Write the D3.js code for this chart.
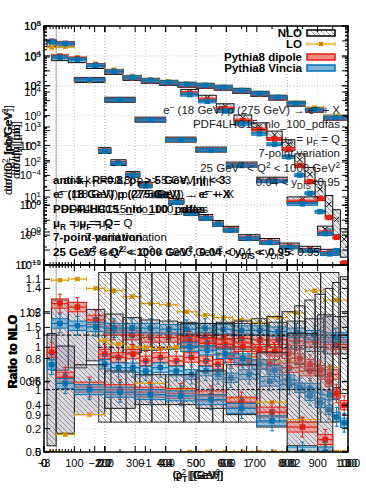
<!DOCTYPE html>
<html lang="en">
<head>
<meta charset="utf-8">
<title>Jets in DIS: NLO vs LO vs Pythia8</title>
<script src="https://d3js.org/d3.v7.min.js"></script>
<style>
  body { margin: 0; background: #fff; }
  svg { font-family: "Liberation Sans", Arial, Helvetica, sans-serif; }
</style>
</head>
<body>
<svg id="chart" width="366" height="503"></svg>
<script>
// ---- values (several overlaid plots) ----
// Q^2 spectrum
var q2Edges = [25,80,140,200,260,320,380,440,500,560,620,680,740,800,860,920,1000];
var q2Nlo   = [7400,5400,2150,860,340,215,158,117,100,74,46,29,16,6.3,2.5,0.74];
var q2Unc   = [0.3,0.28,0.22,0.18,0.15,0.13,0.12,0.11,0.1,0.1,0.1,0.1,0.11,0.12,0.14,0.16];
var q2Lo    = [1.47,1.48,1.40,1.38,1.33,1.27,1.26,1.20,1.17,1.15,1.13,1.11,1.15,1.19,1.38,1.30];
var q2Dip   = [1.27,1.24,1.13,1.04,1.0,0.98,0.98,0.97,0.98,0.97,0.97,0.96,0.96,0.95,0.94,0.92];
var q2Vin   = [1.1,1.08,1.07,1.06,1.06,1.06,1.05,1.05,1.06,1.05,1.04,1.04,1.03,1.02,1.0,0.98];

// jet pT spectrum
var ptEdges = [18,22,27,31.5,35.5,41,46,51,55.5,59,64,71,77.5,84,91,97];
var ptNlo   = [8.3,5.2,3.3,2.2,1.5,1.17,0.76,0.63,0.5,0.4,0.29,0.25,0.21,0.185,0.165];
var ptUnc   = [0.11,0.11,0.11,0.11,0.11,0.11,0.11,0.11,0.11,0.11,0.11,0.11,0.11,0.11,0.11];
var ptLo    = [1.01,1.005,1.0,1.0,0.998,1.0,0.995,1.0,0.99,0.99,0.985,0.98,0.98,0.975,0.97];
var ptDip   = [0.99,0.985,0.99,0.98,0.985,0.98,0.985,0.98,0.975,0.985,0.98,0.975,0.97,0.965,0.96];
var ptVin   = [0.975,0.97,0.97,0.965,0.97,0.965,0.96,0.965,0.96,0.955,0.96,0.95,0.945,0.94,0.93];

// jet pseudorapidity
var etaEdges = [-0.3,0.05,0.4,0.75,1.1,1.4,1.7,1.95,2.15,2.35,2.55,2.7,2.85,3.0];
var etaNlo   = [79,63,45,29,21,15,10.4,5.8,3.3,1.86,1.04,0.58,0.27];
var etaUnc   = [0.1,0.1,0.11,0.12,0.14,0.16,0.2,0.25,0.3,0.35,0.4,0.45,0.5];
var etaLo    = [0,0,0,0,0,0,0,0,0,0,0,0,0];
var etaDip   = [0.95,0.93,0.92,0.9,0.88,0.86,0.84,0.8,0.75,0.7,0.6,0.5,0.4];
var etaVin   = [0.9,0.87,0.84,0.8,0.75,0.7,0.62,0.55,0.48,0.42,0.36,0.3,0.25];

// inelasticity y_DIS
var yEdges = [0.01,0.04,0.1,0.2,0.3,0.4,0.5,0.6,0.7,0.8,0.9,0.95];
var yNlo   = [74000,63000,250,11.7,0.54,0.025,0.0054,5.4e-4,5.4e-5,2.5e-6,2.5e-8];
var yUnc   = [0.45,0.35,0.2,0.15,0.12,0.12,0.15,0.2,0.3,0.45,0.6];
var yLo    = [0.5,0.64,0.8,1.0,1.05,1.0,0.96,0.93,0.9,0.76,0.56];
var yDip   = [1.3,1.1,1.02,1.0,0.98,0.97,0.95,0.9,0.82,0.7,0.6];
var yVin   = [1.2,1.05,1.0,0.98,0.96,0.95,0.92,0.85,0.75,0.5,0.5];

var legendNames = ["NLO", "LO", "Pythia8 dipole", "Pythia8 Vincia"];

var cLO = "#e69f00", cDip = "#e51e10", cVin = "#0072b2";

var svg = d3.select("#chart");
var L = 44, R = 348, T = 26, M = 265, B = 452;

// patterns / clips
var defs = svg.append("defs");
var pat = defs.append("pattern").attr("id", "hatch")
    .attr("patternUnits", "userSpaceOnUse").attr("width", 5).attr("height", 5);
pat.append("path").attr("d", "M0,0L5,5M4,-1L6,1M-1,4L1,6")
    .attr("stroke", "#666").attr("stroke-width", 0.6);
defs.append("clipPath").attr("id", "clipUp").append("rect")
    .attr("x", L).attr("y", T).attr("width", R - L).attr("height", M - T);
defs.append("clipPath").attr("id", "clipLo").append("rect")
    .attr("x", L).attr("y", M).attr("width", R - L).attr("height", B - M);

// scales
var xQ = d3.scaleLinear().domain([0, 1000]).range([L, R]);
var xPt = d3.scaleLinear().domain([0, 100]).range([L, R]);
var xEta = d3.scaleLinear().domain([-3, 3]).range([L, R]);
var xY = d3.scaleLinear().domain([0, 1]).range([L, R]);
var yA = d3.scaleLog().domain([0.1, 1000]).range([M, T]);
var yB = d3.scaleLog().domain([1e-10, 1e6]).range([M, T]);
var yC = d3.scaleLog().domain([Math.pow(10, -0.943), Math.pow(10, 5.886)]).range([M, T]);
var r1 = d3.scaleLinear().domain([0, 1.6]).range([B, M]);
var r2 = d3.scaleLinear().domain([0.846, 1.121]).range([B, M]);
var r3 = d3.scaleLinear().domain([0.5, 2.0]).range([B, M]);

var plots = [
  {x: xQ, y: yB, r: r1, edges: q2Edges, nlo: q2Nlo, unc: q2Unc, lo: q2Lo, dip: q2Dip, vin: q2Vin, band: 0.04, grey: true},
  {x: xPt, y: yA, r: r2, edges: ptEdges, nlo: ptNlo, unc: ptUnc, lo: ptLo, dip: ptDip, vin: ptVin, band: 0.007, grey: false},
  {x: xEta, y: yA, r: r1, edges: etaEdges, nlo: etaNlo, unc: etaUnc, lo: etaLo, dip: etaDip, vin: etaVin, band: 0.04, grey: false},
  {x: xY, y: yB, r: r3, edges: yEdges, nlo: yNlo, unc: yUnc, lo: yLo, dip: yDip, vin: yVin, band: 0.04, grey: true}
];

// grid
var grid = svg.append("g").attr("stroke", "#c4c4c4").attr("stroke-width", 0.7)
    .attr("stroke-dasharray", "1,2");
var vgrid = [];
xQ.ticks(10).forEach(function(v) { vgrid.push(xQ(v)); });
[-2, -1, 0, 1, 2].forEach(function(v) { vgrid.push(xEta(v)); });
[20, 40, 60, 80].forEach(function(v) { vgrid.push(xPt(v)); });
[0.2, 0.4, 0.6, 0.8].forEach(function(v) { vgrid.push(xY(v)); });
[2, 3, 5, 10, 20, 30, 50].forEach(function(v) { vgrid.push(xPt(v)); });
vgrid.forEach(function(x) {
  grid.append("line").attr("x1", x).attr("x2", x).attr("y1", T).attr("y2", B);
});
d3.range(-1, 4).forEach(function(e) {
  grid.append("line").attr("x1", L).attr("x2", R).attr("y1", yA(Math.pow(10, e))).attr("y2", yA(Math.pow(10, e)));
});
d3.range(-10, 7, 2).forEach(function(e) {
  grid.append("line").attr("x1", L).attr("x2", R).attr("y1", yB(Math.pow(10, e))).attr("y2", yB(Math.pow(10, e)));
});
[0.2, 0.4, 0.6, 0.8, 1, 1.2, 1.4].forEach(function(v) {
  grid.append("line").attr("x1", L).attr("x2", R).attr("y1", r1(v)).attr("y2", r1(v));
});
[0.9, 0.95, 1.05, 1.1].forEach(function(v) {
  grid.append("line").attr("x1", L).attr("x2", R).attr("y1", r2(v)).attr("y2", r2(v));
});

// y_DIS > 0.04 cut line
svg.append("line").attr("x1", xY(0.04)).attr("x2", xY(0.04)).attr("y1", T).attr("y2", B)
    .attr("stroke", "#999").attr("stroke-width", 1);

function minSpan(a, b, m) {
  var lo = Math.min(a, b), hi = Math.max(a, b);
  if (hi - lo < m) { var c = (lo + hi) / 2; lo = c - m / 2; hi = c + m / 2; }
  return [lo, hi];
}

function drawMarker(g, x, y, col, size) {
  g.append("rect").attr("x", x - size / 2).attr("y", y - size / 2)
      .attr("width", size).attr("height", size).attr("fill", col);
}

function drawLO(g, x0, x1, y) {
  var xc = (x0 + x1) / 2;
  g.append("line").attr("x1", x0).attr("x2", x1).attr("y1", y).attr("y2", y)
      .attr("stroke", cLO).attr("stroke-width", 1.2);
  g.append("line").attr("x1", x0).attr("x2", x0).attr("y1", y - 2).attr("y2", y + 2).attr("stroke", cLO);
  g.append("line").attr("x1", x1).attr("x2", x1).attr("y1", y - 2).attr("y2", y + 2).attr("stroke", cLO);
  drawMarker(g, xc, y, cLO, 4.5);
  g.append("path").attr("d", "M" + (xc - 2) + "," + (y - 2) + "L" + (xc + 2) + "," + (y + 2) +
      "M" + (xc - 2) + "," + (y + 2) + "L" + (xc + 2) + "," + (y - 2))
      .attr("stroke", "#b57b00").attr("stroke-width", 0.8);
}

function drawBand(g, x0, x1, yc, yt, yb, col, fill, yeT, yeB, minH) {
  var s = minSpan(yt, yb, minH);
  g.append("rect").attr("x", x0).attr("y", s[0]).attr("width", x1 - x0).attr("height", s[1] - s[0])
      .attr("fill", fill).attr("stroke", col).attr("stroke-width", 1);
  var xc = (x0 + x1) / 2;
  if (yeT !== undefined) {
    g.append("line").attr("x1", xc).attr("x2", xc).attr("y1", yeT).attr("y2", yeB)
        .attr("stroke", col).attr("stroke-width", 1);
    g.append("line").attr("x1", xc - 2).attr("x2", xc + 2).attr("y1", yeT).attr("y2", yeT).attr("stroke", col);
    g.append("line").attr("x1", xc - 2).attr("x2", xc + 2).attr("y1", yeB).attr("y2", yeB).attr("stroke", col);
  }
  g.append("line").attr("x1", x0).attr("x2", x1).attr("y1", yc).attr("y2", yc)
      .attr("stroke", col).attr("stroke-width", 1.2);
  drawMarker(g, xc, yc, col, 5.5);
}

var gUp = svg.append("g").attr("clip-path", "url(#clipUp)");
var gLo = svg.append("g").attr("clip-path", "url(#clipLo)");

plots.forEach(function(p) {
  var n = p.nlo.length;
  for (var i = 0; i < n; i++) {
    var x0 = p.x(p.edges[i]), x1 = p.x(p.edges[i + 1]), xc = (x0 + x1) / 2;
    var v = p.nlo[i], u = p.unc[i];

    // ---- upper panel ----
    var s = minSpan(p.y(v * (1 + u)), p.y(v * (1 - u)), 5);
    gUp.append("rect").attr("x", x0).attr("y", s[0]).attr("width", x1 - x0).attr("height", s[1] - s[0])
        .attr("fill", "rgba(200,198,204,0.45)");
    gUp.append("rect").attr("x", x0).attr("y", s[0]).attr("width", x1 - x0).attr("height", s[1] - s[0])
        .attr("fill", "url(#hatch)").attr("stroke", "#111").attr("stroke-width", 1);
    var yc = p.y(v);
    gUp.append("path").attr("d", "M" + (xc - 2.5) + "," + (yc - 2.5) + "L" + (xc + 2.5) + "," + (yc + 2.5) +
        "M" + (xc - 2.5) + "," + (yc + 2.5) + "L" + (xc + 2.5) + "," + (yc - 2.5))
        .attr("stroke", "#000").attr("stroke-width", 1);
    if (p.lo[i] > 0) drawLO(gUp, x0, x1, p.y(v * p.lo[i]));
    var vd = v * p.dip[i], vv = v * p.vin[i];
    drawBand(gUp, x0, x1, p.y(vd), p.y(vd * (1 + p.band)), p.y(vd * (1 - p.band)), cDip,
        "rgba(240,110,100,0.55)", undefined, undefined, 3);
    drawBand(gUp, x0, x1, p.y(vv), p.y(vv * (1 + p.band)), p.y(vv * (1 - p.band)), cVin,
        "rgba(90,160,210,0.6)", undefined, undefined, 3);

    // ---- ratio panel ----
    var rt = p.r(1 + u), rb = p.r(1 - u);
    if (p.grey) {
      gLo.append("rect").attr("x", x0).attr("y", rt).attr("width", x1 - x0).attr("height", rb - rt)
          .attr("fill", "rgba(150,140,165,0.32)");
    }
    gLo.append("rect").attr("x", x0).attr("y", rt).attr("width", x1 - x0).attr("height", rb - rt)
        .attr("fill", "url(#hatch)").attr("stroke", "#222").attr("stroke-width", 1);
    gLo.append("line").attr("x1", x0).attr("x2", x1).attr("y1", p.r(1)).attr("y2", p.r(1))
        .attr("stroke", "#000").attr("stroke-width", 1).attr("stroke-dasharray", "3,2");
    drawLO(gLo, x0, x1, p.r(p.lo[i]));
    var b = p.band;
    drawBand(gLo, x0, x1, p.r(p.dip[i]), p.r(p.dip[i] + b), p.r(p.dip[i] - b), cDip,
        "rgba(240,110,100,0.45)", p.r(p.dip[i] + 2 * b), p.r(p.dip[i] - 2 * b), 4);
    drawBand(gLo, x0, x1, p.r(p.vin[i]), p.r(p.vin[i] + b), p.r(p.vin[i] - b), cVin,
        "rgba(90,160,210,0.5)", p.r(p.vin[i] + 2 * b), p.r(p.vin[i] - 2 * b), 4);
  }
});

// ---- frames ----
svg.append("rect").attr("x", L).attr("y", T).attr("width", R - L).attr("height", M - T)
    .attr("fill", "none").attr("stroke", "#000").attr("stroke-width", 1.5);
svg.append("rect").attr("x", L).attr("y", M).attr("width", R - L).attr("height", B - M)
    .attr("fill", "none").attr("stroke", "#000").attr("stroke-width", 1.5);

var ticks = svg.append("g").attr("stroke", "#000").attr("stroke-width", 1);
function yTick(y, len) {
  ticks.append("line").attr("x1", L).attr("x2", L + len).attr("y1", y).attr("y2", y);
  ticks.append("line").attr("x1", R - len).attr("x2", R).attr("y1", y).attr("y2", y);
}
function xTick(x, len) {
  [[T, 1], [M, -1], [M, 1], [B, -1]].forEach(function(e) {
    ticks.append("line").attr("x1", x).attr("x2", x).attr("y1", e[0]).attr("y2", e[0] + e[1] * len);
  });
}

var lab = svg.append("g").attr("font-size", 11).attr("fill", "#000");
function pow10Label(x, y, e) {
  var t = lab.append("text").attr("x", x).attr("y", y + 4).attr("text-anchor", "end");
  t.append("tspan").text("10");
  t.append("tspan").attr("dy", -4).attr("font-size", 8).text(e < 0 ? "\u2212" + (-e) : e);
}

// log y axes of the upper panel
[[yA, d3.range(-1, 4), 1], [yB, d3.range(-10, 7), 2], [yC, d3.range(0, 6), 1]].forEach(function(a) {
  var sc = a[0];
  a[1].forEach(function(e) {
    var y = sc(Math.pow(10, e));
    yTick(y, 6);
    if (e % a[2] === 0) pow10Label(41, y, e);
    if (a[2] === 1) {
      for (var k = 2; k < 10; k++) {
        var ym = sc(k * Math.pow(10, e));
        if (ym > T && ym < M) yTick(ym, 3);
      }
    }
  });
});

// ratio axes
[[r1, [0, 0.2, 0.4, 0.6, 0.8, 1, 1.2, 1.4]], [r2, [0.9, 0.95, 1, 1.05, 1.1]], [r3, [0.5, 1, 1.5]]].forEach(function(a) {
  a[1].forEach(function(v) {
    var y = a[0](v);
    yTick(y, 6);
    lab.append("text").attr("x", 41).attr("y", y + 4).attr("text-anchor", "end").text(v);
  });
});

// x axes
[[xQ, d3.range(100, 1001, 100)], [xPt, [0, 20, 40, 60, 80, 100]], [xEta, [-3, -2, -1, 0, 1, 2, 3]],
 [xY, [0, 0.2, 0.4, 0.6, 0.8, 1]]].forEach(function(a) {
  a[1].forEach(function(v) {
    var x = a[0](v);
    xTick(x, 6);
    lab.append("text").attr("x", x).attr("y", 467).attr("text-anchor", "middle")
        .text(v < 0 ? "\u2212" + (-v) : v);
  });
});
[2, 3, 4, 5, 6, 7, 8, 9, 10, 12, 15].forEach(function(v) { xTick(xPt(v), 3); });
d3.range(50, 1000, 100).forEach(function(v) { xTick(xQ(v), 3); });

// ---- rich text helper ----
function rich(g, x, y, segs, anchor, size, weight) {
  var t = g.append("text").attr("x", x).attr("y", y).attr("text-anchor", anchor || "start")
      .attr("font-size", size || 11).attr("font-weight", weight || "normal");
  var shift = 0;
  segs.forEach(function(s) {
    var target = s[1] === "sup" ? -4 : (s[1] === "sub" ? 3 : 0);
    var ts = t.append("tspan").text(s[0]).attr("dy", target - shift);
    if (s[1]) ts.attr("font-size", (size || 11) * 0.72);
    shift = target;
  });
  return t;
}

var info = [
  [["anti-k"], ["T", "sub"], [" R=0.8, p"], ["T", "sub"], [" > 5 GeV, |\u03b7| < 3"]],
  [["e"], ["\u2212", "sup"], [" (18 GeV) p (275 GeV) \u2192 e"], ["\u2212", "sup"], [" + X"]],
  [["PDF4LHC15_nlo_100_pdfas"]],
  [["\u03bc"], ["R", "sub"], [" = \u03bc"], ["F", "sub"], [" = Q"]],
  [["7-point variation"]],
  [["25 GeV"], ["2", "sup"], [" < Q"], ["2", "sup"], [" < 1000 GeV"], ["2", "sup"], [", 0.04 < y"], ["DIS", "sub"], [" < 0.95"]]
];
var info2 = [
  [["e"], ["\u2212", "sup"], [" (18 GeV) p (275 GeV) \u2192 e"], ["\u2212", "sup"], [" + X"]],
  [["PDF4LHC15_nlo_100_pdfas"]],
  [["\u03bc"], ["R", "sub"], [" = \u03bc"], ["F", "sub"], [" = Q"]],
  [["7-point variation"]],
  [["25 GeV"], ["2", "sup"], [" < Q"], ["2", "sup"], [" < 1000 GeV"], ["2", "sup"]],
  [["0.04 < y"], ["DIS", "sub"], ["<0.95"]]
];
var txt = svg.append("g").attr("fill", "#000");
var infoShift = [10, 4, 8, 20, 32, 30];
info.forEach(function(segs, i) {
  rich(txt, 53, 184 + i * 14.3, segs, "start", 11.5, "bold");
  rich(txt, 53 + infoShift[i], 184 + i * 14.3, segs, "start", 11.5, "normal");
});
info2.forEach(function(segs, i) {
  rich(txt, 340, 114 + i * 14.4, segs, "end", 11.5, "normal").attr("fill", "#222");
});

// ---- axis titles ----
var yTitles = [
  [12, [["d\u03c3/dp"], ["T", "sub"], [" [pb/GeV]"]]],
  [12, [["d\u03c3/dQ"], ["2", "sup"], [" [pb/GeV"], ["2", "sup"], ["]"]]],
  [20, [["d\u03c3/d|\u03b7| [pb]"]]],
  [20, [["d\u03c3/dy [pb]"]]]
];
yTitles.forEach(function(d) {
  var g = svg.append("g").attr("transform", "translate(" + d[0] + ",150) rotate(-90)");
  rich(g, 0, 0, d[1], "middle", 11.5, "normal");
});
var gr = svg.append("g").attr("transform", "translate(17,352) rotate(-90)");
rich(gr, 0, 0, [["Ratio to NLO"]], "middle", 12, "bold");
rich(gr, 1, 0, [["Ratio to NLO"]], "middle", 12, "bold");

[[["p"], ["T", "sub"], [" [GeV]"]], [["Q"], ["2", "sup"], [" [GeV"], ["2", "sup"], ["]"]],
 [["|p"], ["T", "sub"], ["| [GeV]"]]].forEach(function(segs) {
  rich(svg, 198, 479, segs, "middle", 11.5, "normal");
});

// ---- legend ----
var lg = svg.append("g");
var rows = [37, 48, 61, 72];
legendNames.forEach(function(name, i) {
  lg.append("text").attr("x", 302).attr("y", rows[i]).attr("text-anchor", "end")
      .attr("font-size", 11.5).attr("font-weight", "bold").text(name);
});
lg.append("rect").attr("x", 307).attr("y", 30).attr("width", 28).attr("height", 6)
    .attr("fill", "url(#hatch)").attr("stroke", "#000").attr("stroke-width", 1.5);
drawLO(lg, 307, 335, 44);
lg.append("rect").attr("x", 307).attr("y", 54).attr("width", 28).attr("height", 6)
    .attr("fill", "rgba(240,110,100,0.8)").attr("stroke", cDip).attr("stroke-width", 1.5);
lg.append("rect").attr("x", 307).attr("y", 65).attr("width", 28).attr("height", 6)
    .attr("fill", "rgba(90,160,210,0.8)").attr("stroke", cVin).attr("stroke-width", 1.5);
</script>
</body>
</html>
